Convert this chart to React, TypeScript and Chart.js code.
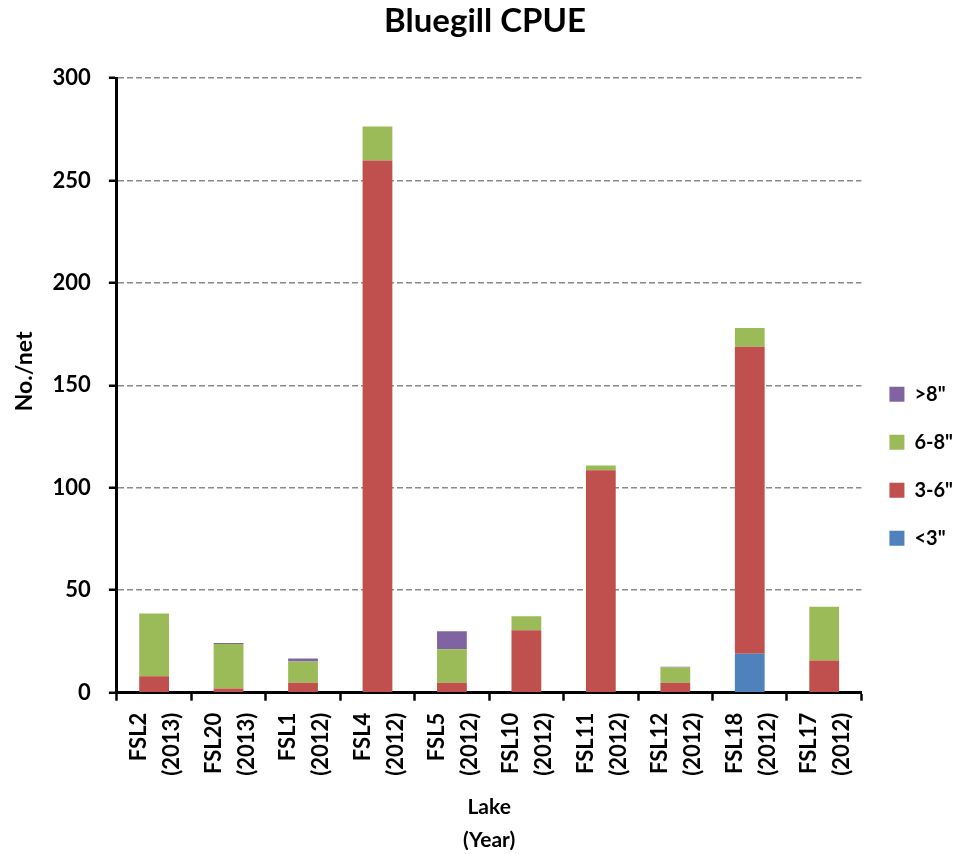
import React, { useEffect, useRef } from "react";
import { Chart, registerables } from "chart.js";

Chart.register(...registerables);

const lakes = ["FSL2", "FSL20", "FSL1", "FSL4", "FSL5", "FSL10", "FSL11", "FSL12", "FSL18", "FSL17"];
const years = ["(2013)", "(2013)", "(2012)", "(2012)", "(2012)", "(2012)", "(2012)", "(2012)", "(2012)", "(2012)"];

const under3 = [0, 0, 0, 0, 0, 0, 0, 0, 19, 0];
const from3to6 = [8, 2.1, 4.9, 259.7, 4.9, 30.5, 108.5, 4.9, 149.8, 15.7];
const from6to8 = [30.6, 21.6, 10.3, 16.6, 16.3, 6.8, 2.4, 7.4, 9.2, 26.3];
const over8 = [0, 0.5, 1.5, 0, 8.8, 0, 0, 0.4, 0, 0];

const yTicks = [0, 50, 100, 150, 200, 250, 300];

const FONT = "Lato, 'Open Sans', sans-serif";

export default function App() {
  const ref = useRef<HTMLCanvasElement>(null);
  useEffect(() => {
    const labels = lakes.map((l, i) => [l, years[i]]);
    const chart = new Chart(ref.current!, {
      type: "bar",
      data: {
        labels,
        datasets: [
          { label: '<3"', data: under3, backgroundColor: "#4F81BD" },
          { label: '3-6"', data: from3to6, backgroundColor: "#C0504D" },
          { label: '6-8"', data: from6to8, backgroundColor: "#9BBB59" },
          { label: '>8"', data: over8, backgroundColor: "#8064A2" },
        ],
      },
      options: {
        responsive: false,
        animation: false,
        layout: { autoPadding: false, padding: { left: 7, right: 5, top: 0, bottom: 0 } },
        datasets: { bar: { barPercentage: 0.4, categoryPercentage: 1 } },
        plugins: {
          tooltip: { enabled: false },
          title: {
            display: true,
            text: "Bluegill CPUE",
            color: "#000",
            font: { family: FONT, size: 33, weight: "bold", lineHeight: 1.2 },
            padding: { top: 2, bottom: 36.4 },
          },
          legend: {
            position: "right",
            reverse: true,
            title: { display: true, text: " ", padding: { top: 32, bottom: 32 }, font: { size: 12 } },
            labels: {
              boxWidth: 15,
              boxHeight: 15,
              padding: 28,
              color: "#000",
              font: { family: FONT, size: 20, weight: "bold" },
            },
          },
        },
        scales: {
          x: {
            stacked: true,
            grid: {
              offset: true,
              drawOnChartArea: false,
              tickLength: 8,
              tickColor: "#000",
              tickWidth: 2.5,
            },
            border: { color: "#000", width: 3 },
            ticks: {
              color: "#000",
              maxRotation: 90,
              minRotation: 90,
              padding: 12,
              labelOffset: -15,
              font: { family: FONT, size: 22, weight: "bold", lineHeight: 1.5 },
            },
            title: {
              display: true,
              text: ["Lake", "(Year)"],
              color: "#000",
              font: { family: FONT, size: 21, weight: "bold", lineHeight: 1.6 },
              padding: { top: 2.5, bottom: -3.5 },
            },
          },
          y: {
            stacked: true,
            min: 0,
            max: 300,
            afterBuildTicks: (axis: any) => {
              axis.ticks = yTicks.map((v) => ({ value: v }));
            },
            grid: {
              color: "#8a8a8a",
              lineWidth: 1.5,
              tickLength: 8,
              tickColor: "#000",
              tickWidth: 2.5,
              tickBorderDash: [],
            },
            border: { color: "#000", width: 3, dash: [6, 3] },
            ticks: {
              color: "#000",
              padding: 18,
              font: { family: FONT, size: 22, weight: "bold" },
            },
            title: {
              display: true,
              text: "\u00a0\u00a0\u00a0\u00a0\u00a0No./net",
              color: "#000",
              font: { family: FONT, size: 23, weight: "bold" },
              padding: { top: 4, bottom: -4 },
            },
          },
        },
      },
    });
    return () => chart.destroy();
  }, []);
  return (
    <div style={{ position: "fixed", left: 0, top: 0, width: 968, height: 854, background: "#fff" }}>
      <canvas ref={ref} width={968} height={854} />
    </div>
  );
}
